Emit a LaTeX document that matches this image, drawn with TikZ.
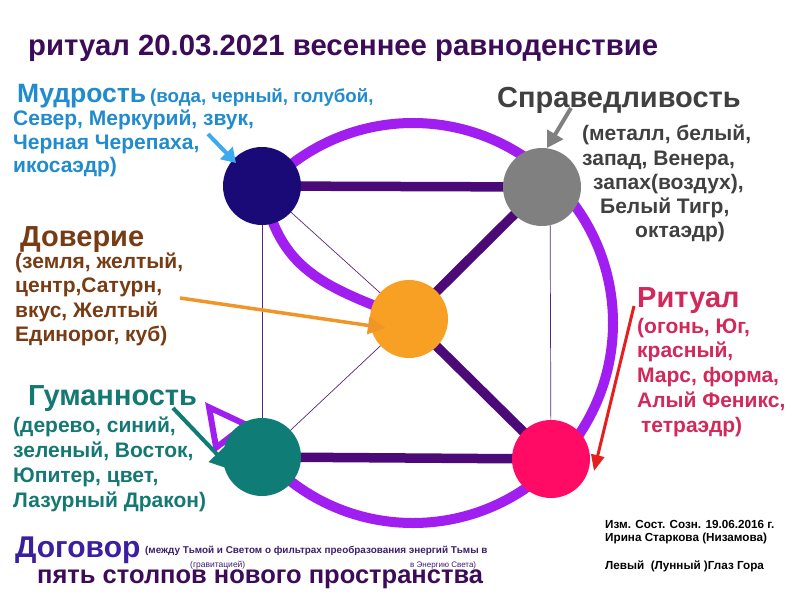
\documentclass[tikz,border=0pt]{standalone}
\usepackage{fontspec}
\setmainfont{Liberation Sans}
\usetikzlibrary{arrows.meta}
\pgfdeclarelayer{back}
\pgfdeclarelayer{bg}
\pgfsetlayers{back,bg,main}
\definecolor{cTitle}{RGB}{60,12,88}
\definecolor{cBlueT}{RGB}{32,140,205}
\definecolor{cGrayT}{RGB}{64,64,64}
\definecolor{cBrown}{RGB}{120,60,20}
\definecolor{cRed}{RGB}{210,40,90}
\definecolor{cTealT}{RGB}{20,120,115}
\definecolor{cDog}{RGB}{60,30,160}
\definecolor{cDogS}{RGB}{60,30,110}
\definecolor{cNavy}{RGB}{25,10,120}
\definecolor{cGray}{RGB}{128,128,128}
\definecolor{cOrange}{RGB}{248,160,35}
\definecolor{cTeal}{RGB}{15,125,118}
\definecolor{cPink}{RGB}{255,10,100}
\definecolor{cRing}{RGB}{160,30,240}
\definecolor{cBar}{RGB}{75,10,120}
\definecolor{cThin}{RGB}{90,40,120}
\definecolor{cArrBlue}{RGB}{60,170,240}
\definecolor{cArrOr}{RGB}{240,150,40}
\definecolor{cArrRed}{RGB}{230,30,30}
\newcommand{\myfs}[1]{\fontsize{#1}{#1}\selectfont}
\begin{document}
\begin{tikzpicture}[x=1pt,y=-1pt,
  dot/.style={circle, minimum size=78pt, inner sep=0pt, draw=none},
  thinln/.style={draw=cThin, line width=0.7pt},
  barln/.style={draw=cBar, line width=9.5pt},
  ringln/.style={draw=cRing, line width=10pt},
  lbl/.style={anchor=base west, inner sep=0pt, font=\bfseries},
]
\begin{pgfonlayer}{back}
\fill[white] (0,0) rectangle (800,600);
\end{pgfonlayer}
\useasboundingbox (0,0) rectangle (800,600);

% circles
\node[dot, fill=cNavy]   (mud) at (262,186) {};
\node[dot, fill=cGray]   (spr) at (542,187) {};
\node[dot, fill=cOrange] (dov) at (409,319) {};
\node[dot, fill=cTeal]   (gum) at (262,457) {};
\node[dot, fill=cPink]   (rit) at (551,459) {};

\coordinate (ringc) at (413,323);
\coordinate (gtip) at (205,402);
\coordinate (gbase) at (257,470);

\begin{pgfonlayer}{bg}
  \draw[thinln] (mud.center) -- (gum.center);
  \draw[thinln] ([xshift=8pt]spr.center) -- (rit.center);
  \draw[thinln] (mud.center) -- (dov.center);
  \draw[thinln] (gum.center) -- (dov.center);
  \draw[ringln] (ringc) ++(135:200) arc[start angle=135, end angle=-135, radius=200];
  \draw[ringln] (mud.center) .. controls (280,270) and (320,285) .. (dov.center);
  \draw[ringln, line width=6pt, -{Triangle[open,length=46pt,width=46pt]}] (gbase) -- (gtip);
  \draw[barln] (mud.center) -- (spr.center);
  \draw[barln] (spr.center) -- (dov.center);
  \draw[barln] (dov.center) -- (rit.center);
  \draw[barln] (gum.center) -- (rit.center);
\end{pgfonlayer}

% pointer arrows
\coordinate (bA) at (208,134); \coordinate (bB) at (236,163);
\draw[cArrBlue, line width=4pt, -{Triangle[length=14pt,width=17pt]}] (bA) -- (bB);
\coordinate (gA) at (571,108); \coordinate (gB) at (547,148);
\draw[cGray, line width=4pt, -{Triangle[length=16pt,width=18pt]}] (gA) -- (gB);
\coordinate (oA) at (180,298); \coordinate (oB) at (386,328);
\draw[cArrOr, line width=3.5pt, -{Triangle[length=18pt,width=17pt]}] (oA) -- (oB);
\coordinate (rA) at (634,306); \coordinate (rB) at (594,471);
\draw[cArrRed, line width=3pt, -{Triangle[length=16pt,width=13pt]}] (rA) -- (rB);
\coordinate (tA) at (173,408); \coordinate (tB) at (232,470);
\begin{pgfonlayer}{bg}
\draw[cTeal, line width=4pt, -{Triangle[length=22pt,width=22pt]}] (tA) -- (tB);
\end{pgfonlayer}

% title
\node[lbl, text=cTitle] (title) at (28,55) {\myfs{29.3}ритуал 20.03.2021 весеннее равноденствие};

% Мудрость
\node[lbl, text=cBlueT] (m0) at (17,102) {\myfs{26.5}Мудрость};
\node[lbl, text=cBlueT] (m0b) at (150,102) {\myfs{18.7}(вода, черный, голубой,};
\node[lbl, text=cBlueT] (m1) at (13,125) {\myfs{21}Север, Меркурий, звук,};
\node[lbl, text=cBlueT] (m2) at (13,149) {\myfs{21}Черная Черепаха,};
\node[lbl, text=cBlueT] (m3) at (13,172) {\myfs{21}икосаэдр)};

% Справедливость
\node[lbl, text=cGrayT] (s0) at (497,107) {\myfs{29}Справедливость};
\node[lbl, text=cGrayT] (s1) at (582,140) {\myfs{21}(металл, белый,};
\node[lbl, text=cGrayT] (s2) at (582,165) {\myfs{21}запад, Венера,};
\node[lbl, text=cGrayT] (s3) at (593,189) {\myfs{21}запах(воздух),};
\node[lbl, text=cGrayT] (s4) at (600,213) {\myfs{21}Белый Тигр,};
\node[lbl, text=cGrayT] (s5) at (635,237) {\myfs{21}октаэдр)};

% Доверие
\node[lbl, text=cBrown] (d0) at (20,246) {\myfs{29}Доверие};
\node[lbl, text=cBrown] (d1) at (15,268) {\myfs{21}(земля, желтый,};
\node[lbl, text=cBrown] (d2) at (15,292) {\myfs{21}центр,Сатурн,};
\node[lbl, text=cBrown] (d3) at (15,317) {\myfs{21}вкус, Желтый};
\node[lbl, text=cBrown] (d4) at (15,341) {\myfs{21}Единорог, куб)};

% Ритуал
\node[lbl, text=cRed] (r0) at (637,307) {\myfs{29}Ритуал};
\node[lbl, text=cRed] (r1) at (637,333) {\myfs{21}(огонь, Юг,};
\node[lbl, text=cRed] (r2) at (637,357) {\myfs{21}красный,};
\node[lbl, text=cRed] (r3) at (637,382) {\myfs{21}Марс, форма,};
\node[lbl, text=cRed] (r4) at (637,407) {\myfs{21}Алый Феникс,};
\node[lbl, text=cRed] (r5) at (641,432) {\myfs{21}тетраэдр)};

% Гуманность
\node[lbl, text=cTealT] (g0) at (28,405) {\myfs{29}Гуманность};
\node[lbl, text=cTealT] (g1) at (13,432) {\myfs{21}(дерево, синий,};
\node[lbl, text=cTealT] (g2) at (13,457) {\myfs{21}зеленый, Восток,};
\node[lbl, text=cTealT] (g3) at (13,482) {\myfs{21}Юпитер, цвет,};
\node[lbl, text=cTealT] (g4) at (13,507) {\myfs{21}Лазурный Дракон)};

% Договор
\node[lbl, text=cDog] (p0) at (15,557) {\myfs{30}Договор};
\node[lbl, text=cDogS] (p1) at (145,553) {\myfs{9.9}(между Тьмой и Светом о фильтрах преобразования энергий Тьмы в};
\node[anchor=base west, inner sep=0pt, text=cDogS] (p2) at (190,567) {\myfs{8.5}(гравитацией)};
\node[anchor=base west, inner sep=0pt, text=cDogS] (p3) at (410,567) {\myfs{8}в Энергию Света)};
\node[lbl, text=cTitle] (p4) at (37,583) {\myfs{25.5}пять столпов нового пространства};

% author block
\node[lbl, text=black] (a1) at (605,528) {\myfs{11.7}Изм. Сост. Созн. 19.06.2016 г.};
\node[lbl, text=black] (a2) at (605,541) {\myfs{11.7}Ирина Старкова (Низамова)};
\node[lbl, text=black] (a3) at (605,569) {\myfs{11.7}Левый\ \ (Лунный )Глаз Гора};
\end{tikzpicture}
\end{document}
